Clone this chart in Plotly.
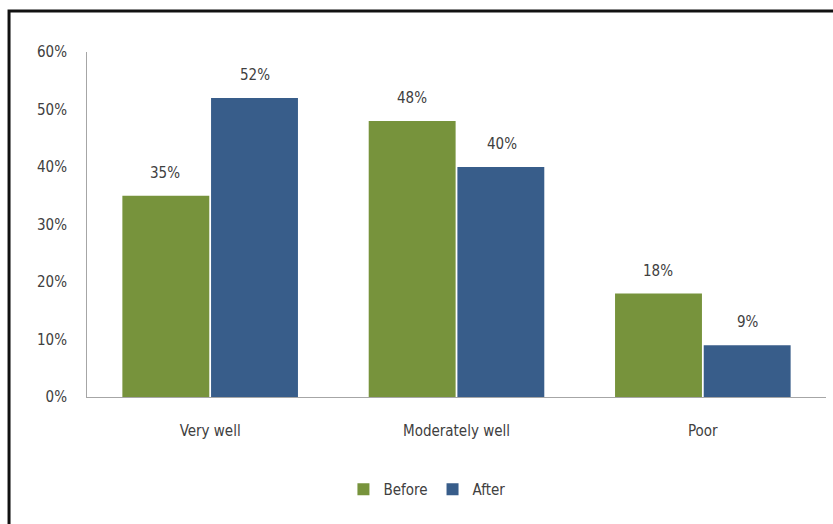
import plotly.graph_objects as go

# Ratings before and after, as percentages
categories = ["Very well", "Moderately well", "Poor"]
before = [35, 48, 18]
after = [52, 40, 9]
y_ticks = [0, 10, 20, 30, 40, 50, 60]
y_tick_labels = [f"{v}%" for v in y_ticks]

GREEN = "#77933C"
BLUE = "#385D8A"
FONT = "DejaVu Sans Condensed, Liberation Sans Narrow, sans-serif"
TEXT = "#404040"

fig = go.Figure()
fig.add_trace(go.Bar(name="Before", x=categories, y=before, marker_color=GREEN,
                     marker_line_width=0))
fig.add_trace(go.Bar(name="After", x=categories, y=after, marker_color=BLUE,
                     marker_line_width=0))

# Value labels floating above each bar
for series, shift in ((before, -45), (after, 45)):
    for cat, val in zip(categories, series):
        fig.add_annotation(x=cat, y=val, text=f"{val}%", showarrow=False,
                           xshift=shift, yanchor="bottom", yshift=12,
                           font=dict(family=FONT, size=15, color=TEXT))

# Dark frame along the top and left edges
fig.add_shape(type="rect", xref="paper", yref="paper",
              x0=-0.1055, x1=1.2, y0=-0.6, y1=1.119,
              line=dict(color="#111111", width=3), layer="above")

fig.update_layout(
    width=833, height=524,
    margin=dict(l=87, r=7, t=52, b=127),
    paper_bgcolor="white", plot_bgcolor="white",
    barmode="group", bargap=0.28, bargroupgap=0.02,
    font=dict(family=FONT, size=15, color=TEXT),
    showlegend=True,
    legend=dict(orientation="h", x=0.46, xanchor="center", y=-0.22,
                yanchor="top", font=dict(family=FONT, size=15, color=TEXT),
                itemwidth=30, traceorder="normal"),
    xaxis=dict(showline=True, linecolor="#A6A6A6", linewidth=1,
               showgrid=False, ticks="", ticklabelstandoff=20,
               tickfont=dict(family=FONT, size=15, color=TEXT)),
    yaxis=dict(range=[0, 60], tickvals=y_ticks, ticktext=y_tick_labels,
               showline=True, linecolor="#A6A6A6", linewidth=1,
               showgrid=False, zeroline=False, ticks="",
               ticklabelstandoff=16,
               tickfont=dict(family=FONT, size=15, color=TEXT)),
)

fig.write_html("out.html")
